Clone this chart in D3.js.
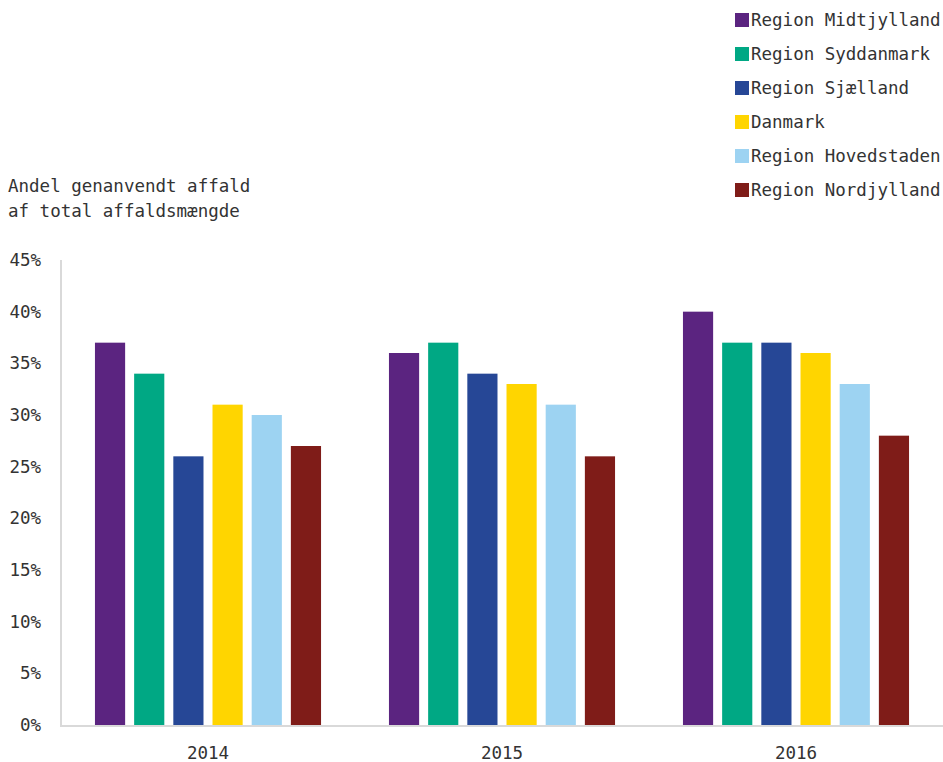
<!DOCTYPE html>
<html><head><meta charset="utf-8">
<script src="https://cdn.jsdelivr.net/npm/d3@7"></script>
<style>body{margin:0;background:#fff}svg{display:block}text{font-family:"DejaVu Sans Mono",monospace;fill:#333}</style>
</head><body><svg id="c" width="943" height="762"></svg>
<script>
const years = ["2014","2015","2016"];
const seriesNames = ["Region Midtjylland","Region Syddanmark","Region Sjælland","Danmark","Region Hovedstaden","Region Nordjylland"];
const seriesColors = ["#5b2480","#00a884","#264796","#ffd500","#9dd3f2","#7f1c18"];
const midtjylland = [37,36,40];
const syddanmark = [34,37,37];
const sjaelland = [26,34,37];
const danmark = [31,33,36];
const hovedstaden = [30,31,33];
const nordjylland = [27,26,28];
const yTicks = [0,5,10,15,20,25,30,35,40,45];
const titleLines = ["Andel genanvendt affald","af total affaldsmængde"];

(function(){
const values = [midtjylland,syddanmark,sjaelland,danmark,hovedstaden,nordjylland];
const svg = d3.select("#c");
const fs = "17.5px";
const pL=61, pR=943, pT=260, pB=725;
const y = d3.scaleLinear().domain([0,45]).range([pB,pT]);
const x0 = d3.scaleBand().domain(years).range([pL,pR]).paddingInner(0.231).paddingOuter(0.1155);
const x1 = d3.scaleBand().domain(seriesNames).range([0,x0.bandwidth()]).paddingInner(0.23).paddingOuter(0);

const g = svg.append("g");
years.forEach((yr,yi)=>{
  seriesNames.forEach((s,si)=>{
    g.append("rect").attr("x",x0(yr)+x1(s)).attr("y",y(values[si][yi]))
     .attr("width",x1.bandwidth()).attr("height",y(0)-y(values[si][yi]))
     .attr("fill",seriesColors[si]);
  });
});

svg.append("line").attr("x1",pL).attr("x2",pL).attr("y1",pT).attr("y2",pB+1).attr("stroke","#d9d9d9").attr("stroke-width",2);
svg.append("line").attr("x1",pL-1).attr("x2",pR).attr("y1",pB+1).attr("y2",pB+1).attr("stroke","#d9d9d9").attr("stroke-width",2);

svg.append("g").selectAll("text").data(yTicks).join("text")
  .attr("x",41).attr("y",d=>y(d)).attr("dy","0.35em").attr("text-anchor","end")
  .style("font-size",fs).text(d=>d+"%");
svg.append("g").selectAll("text").data(years).join("text")
  .attr("x",d=>x0(d)+x0.bandwidth()/2).attr("y",753).attr("dy","0.35em").attr("text-anchor","middle")
  .style("font-size",fs).text(d=>d);

svg.append("g").selectAll("text").data(titleLines).join("text")
  .attr("x",8).attr("y",(d,i)=>186+i*25).attr("dy","0.35em").style("font-size",fs).text(d=>d);

const lg = svg.append("g").selectAll("g").data(seriesNames).join("g")
  .attr("transform",(d,i)=>`translate(735,${20+i*34})`);
lg.append("rect").attr("x",0).attr("y",-7).attr("width",14).attr("height",14).attr("fill",(d,i)=>seriesColors[i]);
lg.append("text").attr("x",16).attr("y",0).attr("dy","0.35em").style("font-size",fs).text(d=>d);
})();
</script></body></html>
